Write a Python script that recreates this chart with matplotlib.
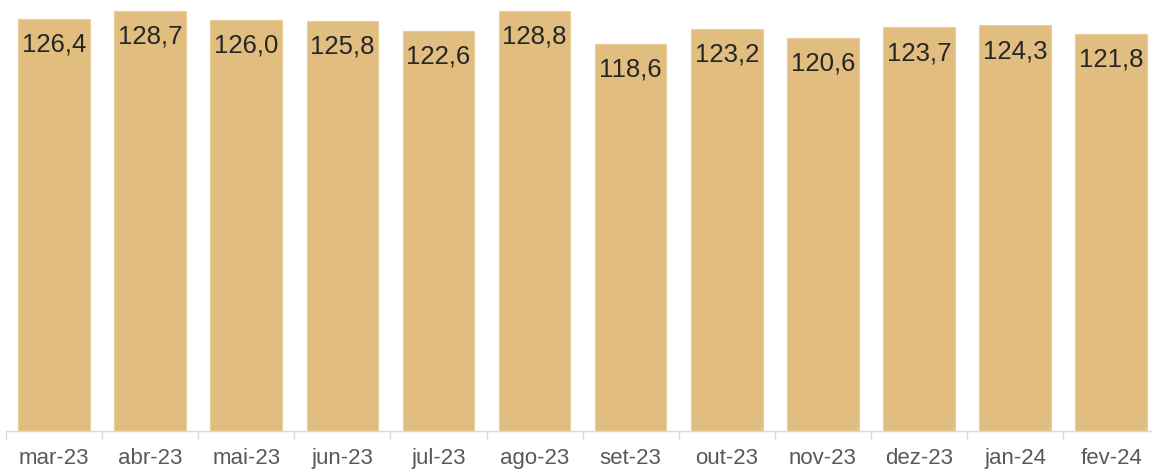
import matplotlib
matplotlib.use("Agg")
import matplotlib.pyplot as plt

months = ['mar-23', 'abr-23', 'mai-23', 'jun-23', 'jul-23', 'ago-23',
          'set-23', 'out-23', 'nov-23', 'dez-23', 'jan-24', 'fev-24']
values = [126.4, 128.7, 126.0, 125.8, 122.6, 128.8,
          118.6, 123.2, 120.6, 123.7, 124.3, 121.8]

plt.rcParams['font.family'] = ['Liberation Sans', 'DejaVu Sans']

fig = plt.figure(figsize=(11.52, 4.71), dpi=100)
ax = fig.add_axes([6/1152, 40/471, 1146/1152, 431/471])

x = list(range(len(months)))
bars = ax.bar(x, values, width=0.745, color='#E1BE80', edgecolor='#EBCD98', linewidth=0.8)

for b, v in zip(bars, values):
    ax.annotate(f'{v:.1f}'.replace('.', ','), (b.get_x() + b.get_width()/2, v),
                xytext=(0, -18.6), textcoords='offset points',
                ha='center', va='center', fontsize=18.5, color='#262626')

# ticks between categories, labels centred
ax.set_xticks([i - 0.5 for i in range(len(months) + 1)])
ax.set_xticklabels([])
ax.set_xticks(x, minor=True)
ax.set_xticklabels(months, minor=True, fontsize=16, color='#595959')
ax.tick_params(axis='x', which='major', length=6, color='#D9D9D9', width=1)
ax.tick_params(axis='x', which='minor', length=0, pad=12)
ax.set_yticks([])

# limits after ticks so set_xticks does not widen the view
ax.set_xlim(-0.5, -0.5 + 1146/96.1)
ax.set_ylim(0, 132.1)

for s in ['top', 'right', 'left']:
    ax.spines[s].set_visible(False)
ax.spines['bottom'].set_color('#D9D9D9')
ax.spines['bottom'].set_linewidth(1)

fig.savefig('out.png', dpi=100)
